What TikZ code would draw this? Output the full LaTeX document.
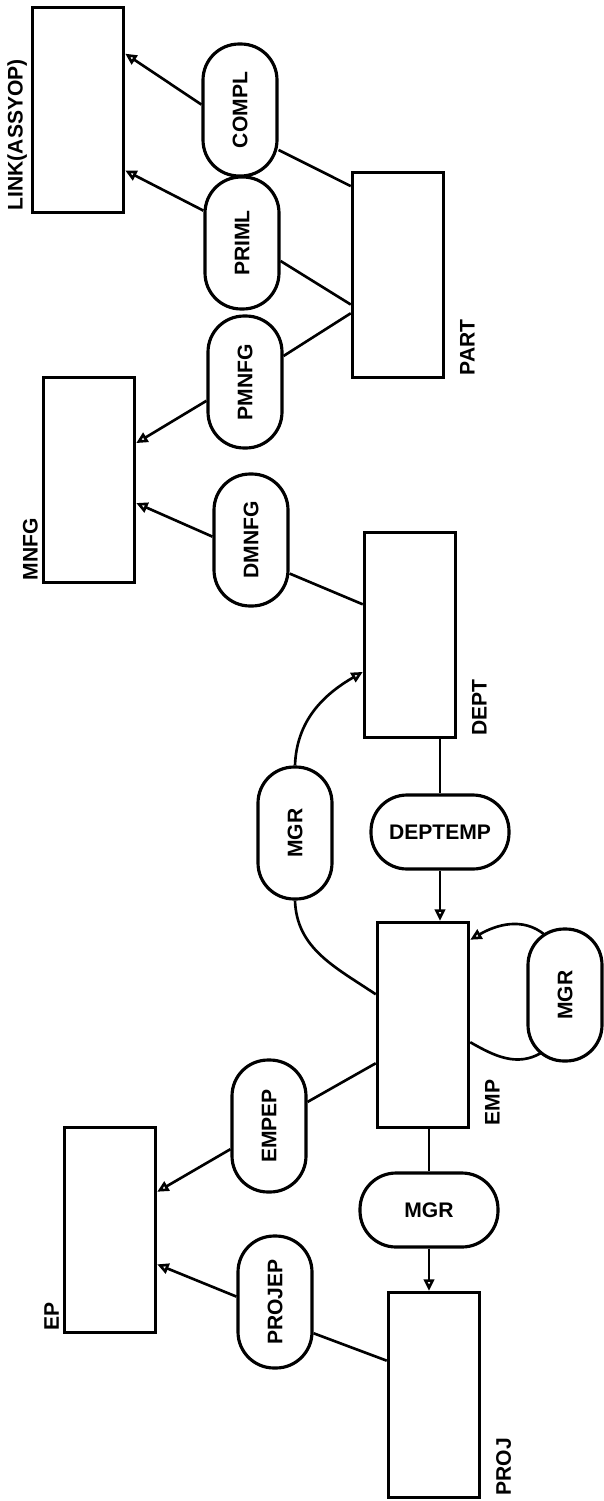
\documentclass[tikz,border=0pt]{standalone}
\usepackage{fontspec}
\setmainfont{Liberation Sans}
\usepackage{graphicx}
\usetikzlibrary{arrows.meta,calc}

\begin{document}
\begin{tikzpicture}[x=0.02cm, y=0.02cm,
  entnode/.style={rectangle, draw, line width=2pt,
    minimum width=1.82cm, minimum height=4.1cm, inner sep=0pt},
  relnode/.style={rectangle, draw, line width=1.8pt, rounded corners=0.72cm,
    minimum width=1.48cm, minimum height=2.64cm, inner sep=0pt,
    font=\bfseries\fontsize{12}{14}\selectfont},
  relhnode/.style={relnode, minimum width=2.76cm, minimum height=1.48cm},
  lbl/.style={rotate=90, inner sep=2pt, font=\bfseries\fontsize{12}{14}\selectfont},
  arr/.style={-{Triangle[open, length=6.5pt, width=6pt]}, line width=1.5pt},
  lnk/.style={line width=1.5pt}
]
\useasboundingbox (0,0) rectangle (603,-1501);

% registros
\node[entnode] (link) at (78,-110) {};
\node[entnode] (part) at (398,-275) {};
\node[entnode] (mnfg) at (89,-480) {};
\node[entnode] (dept) at (410,-635) {};
\node[entnode] (emp) at (423,-1025) {};
\node[entnode] (ep) at (110,-1230) {};
\node[entnode] (proj) at (434,-1395) {};

% nomes dos registros
\node[lbl, anchor=south west] (linklbl) at (link.south west) {LINK(ASSYOP)};
\node[lbl, anchor=south west] (mnfglbl) at (mnfg.south west) {MNFG};
\node[lbl, anchor=south west] (eplbl) at (ep.south west) {EP};
\node[lbl, anchor=north west] (partlbl) at ([xshift=0.22cm]part.south east) {PART};
\node[lbl, anchor=north west] (deptlbl) at ([xshift=0.22cm]dept.south east) {DEPT};
\node[lbl, anchor=north west] (emplbl) at ([xshift=0.22cm]emp.south east) {EMP};
\node[lbl, anchor=north west] (projlbl) at ([xshift=0.22cm]proj.south east) {PROJ};

% conjuntos
\node[relnode] (compl) at (240,-110) {\rotatebox{90}{COMPL}};
\node[relnode] (priml) at (242,-243) {\rotatebox{90}{PRIML}};
\node[relnode] (pmnfg) at (245,-382) {\rotatebox{90}{PMNFG}};
\node[relnode] (dmnfg) at (251,-540) {\rotatebox{90}{DMNFG}};
\node[relnode] (mgrA) at (295,-833) {\rotatebox{90}{MGR}};
\node[relhnode] (deptemp) at (440,-832) {DEPTEMP};
\node[relnode] (mgrB) at (565,-995) {\rotatebox{90}{MGR}};
\node[relnode] (empep) at (269,-1126) {\rotatebox{90}{EMPEP}};
\node[relhnode] (mgrC) at (429,-1210) {MGR};
\node[relnode] (projep) at (275,-1302) {\rotatebox{90}{PROJEP}};

\coordinate (mgrBtop) at ($(mgrB.center)+(-20,60)$);
\coordinate (mgrBbot) at ($(mgrB.center)+(-24,-58)$);

% PART
\draw[lnk] (part.118) -- (compl.-46);
\draw[lnk] (part.-148) -- (priml.-25);
\draw[lnk] (part.-141) -- (pmnfg.34);
\draw[arr] (compl.172) -- (link.50);
\draw[arr] (priml.140) -- (link.-52);
\draw[arr] (pmnfg.-154) -- (mnfg.38);

% DEPT
\draw[lnk] (dept.147) -- (dmnfg.-41);
\draw[arr] (dmnfg.175) -- (mnfg.-26);
\draw[arr] (mgrA.north) to[out=88, in=210] (dept.-142);
\draw[lnk] (mgrA.south) to[out=-88, in=146] (emp.147);
\draw[lnk] (dept.south -| deptemp.north) -- (deptemp.north);
\draw[arr] (deptemp.south) -- (deptemp.south |- emp.north);

% EMP
\draw[arr] (mgrBtop) to[out=140, in=30] (emp.61);
\draw[lnk] (emp.-20) to[out=-30, in=210] (mgrBbot);
\draw[lnk] (emp.-141) -- (empep.32);
\draw[arr] (empep.-149) -- (ep.39);
\draw[lnk] (emp.south -| mgrC.north) -- (mgrC.north);
\draw[arr] (mgrC.south) -- (mgrC.south |- proj.north);

% PROJ
\draw[lnk] (proj.144) -- (projep.-39);
\draw[arr] (projep.172) -- (ep.-36);

\end{tikzpicture}
\end{document}
